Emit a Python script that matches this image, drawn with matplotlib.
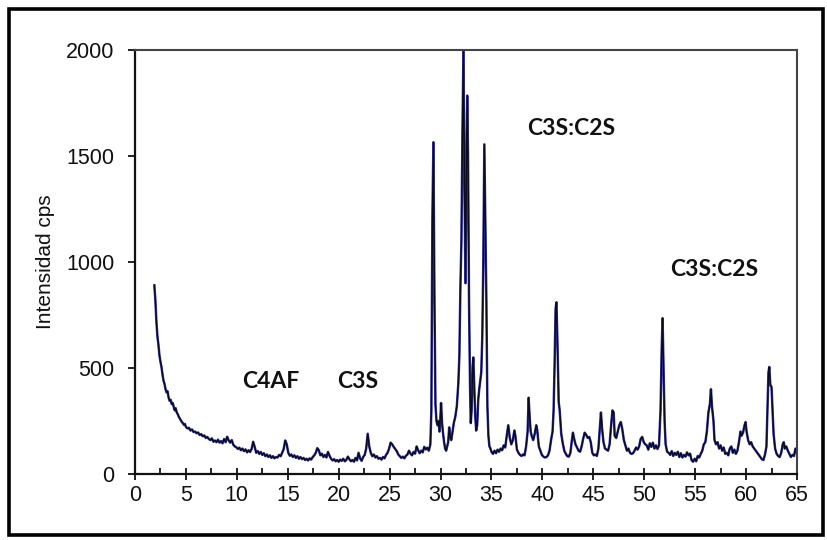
import matplotlib
matplotlib.use("Agg")
import matplotlib.pyplot as plt
from matplotlib.patches import Rectangle
from matplotlib.ticker import MultipleLocator

# 2-theta (deg) / intensity (cps)
tt_a = [1.9, 2.0, 2.1, 2.2, 2.3, 2.4, 2.5, 2.6, 2.7, 2.8, 2.9, 3.0, 3.1, 3.2, 3.3, 3.4,
        3.5, 3.6, 3.7, 3.8, 3.9, 4.0, 4.1, 4.2, 4.3, 4.4, 4.5, 4.6, 4.7, 4.8, 4.9, 5.0,
        5.15, 5.3, 5.45, 5.6, 5.75, 5.9, 6.05, 6.2, 6.35, 6.5, 6.65, 6.8, 6.95, 7.1, 7.25,
        7.4, 7.55, 7.7, 7.85, 8.0, 8.15, 8.3, 8.45, 8.6, 8.75, 8.9, 9.05, 9.2, 9.35, 9.5,
        9.65, 9.8, 9.95]
cps_a = [890, 820, 720, 650, 610, 560, 530, 505, 470, 440, 425, 400, 385, 390, 360, 345,
         350, 330, 335, 318, 300, 310, 290, 282, 270, 262, 255, 245, 240, 232, 236, 222,
         215, 218, 205, 210, 198, 200, 192, 196, 184, 188, 178, 182, 170, 175, 165,
         160, 168, 152, 158, 150, 162, 148, 155, 145, 165, 150, 176, 158, 148, 160,
         138, 130, 126]

tt_b = [10.1, 10.25, 10.4, 10.55, 10.7, 10.85, 11.0, 11.15, 11.3, 11.45, 11.6, 11.75,
        11.9, 12.05, 12.2, 12.35, 12.5, 12.65, 12.8, 12.95, 13.1, 13.25, 13.4, 13.55,
        13.7, 13.85, 14.0, 14.15, 14.3, 14.45, 14.6, 14.75, 14.9, 15.05, 15.2, 15.35,
        15.5, 15.65, 15.8, 15.95, 16.1, 16.25, 16.4, 16.55, 16.7, 16.85, 17.0, 17.15,
        17.3, 17.45, 17.6, 17.75, 17.9, 18.05, 18.2, 18.35, 18.5, 18.65, 18.8, 18.95,
        19.1, 19.25, 19.4, 19.55, 19.7, 19.85, 20.0, 20.15, 20.3, 20.45, 20.6, 20.75,
        20.9, 21.05, 21.2, 21.35, 21.5, 21.65, 21.8, 21.95, 22.1, 22.25, 22.4, 22.55,
        22.7, 22.85, 23.0, 23.15, 23.3, 23.45, 23.6, 23.75, 23.9, 24.05, 24.2, 24.35,
        24.5, 24.65, 24.8, 24.95, 25.1, 25.25, 25.4, 25.55, 25.7, 25.85, 26.0, 26.15,
        26.3, 26.45, 26.6, 26.75, 26.9, 27.05, 27.2, 27.35, 27.5, 27.65, 27.8, 27.95,
        28.1, 28.25, 28.4, 28.55, 28.7, 28.85, 29.0]
cps_b = [118, 124, 112, 120, 108, 116, 102, 112, 104, 118, 152, 128,
         100, 108, 95, 104, 90, 98, 84, 92, 80, 88, 76, 84,
         74, 80, 78, 90, 84, 100, 118, 158, 140, 100, 86, 92,
         80, 88, 76, 84, 72, 80, 70, 76, 66, 72, 64, 74,
         68, 80, 88, 100, 122, 112, 88, 96, 80, 90, 78, 104,
         86, 72, 64, 70, 60, 66, 58, 68, 62, 72, 60, 66,
         82, 70, 60, 66, 58, 76, 64, 100, 74, 62, 80, 90,
         120, 190, 130, 100, 84, 92, 78, 84, 72, 76, 68, 80,
         74, 90, 100, 120, 148, 140, 128, 118, 108, 92, 84, 76,
         82, 74, 86, 92, 110, 96, 88, 104, 96, 130, 112, 98,
         110, 102, 128, 116, 124, 110, 140]

tt_c = [29.1, 29.2, 29.3, 29.4, 29.5, 29.6, 29.7, 29.8, 29.9, 30.0, 30.05, 30.15,
        30.25, 30.35, 30.45, 30.55, 30.65, 30.75, 30.85, 30.95, 31.05, 31.15, 31.3,
        31.45, 31.6, 31.75, 31.85, 31.95, 32.05, 32.15, 32.25, 32.35, 32.45, 32.55,
        32.62, 32.7, 32.8, 32.9, 32.97, 33.05, 33.15, 33.22, 33.3, 33.4, 33.5, 33.6,
        33.7, 33.8, 33.9, 34.0, 34.1, 34.2, 34.3, 34.4, 34.5, 34.6, 34.7, 34.8, 34.9]
cps_c = [300, 1200, 1565, 850, 330, 250, 230, 250, 200, 280, 335, 240,
         190, 150, 120, 110, 130, 150, 220, 175, 160, 190, 240,
         270, 320, 430, 560, 880, 1100, 1600, 2000, 1350, 900, 1500,
         1785, 1500, 800, 400, 240, 300, 510, 550, 430, 280, 205, 230,
         350, 400, 440, 480, 650, 1000, 1555, 1200, 820, 320, 180, 130, 120]

tt_d = [35.0, 35.15, 35.3, 35.45, 35.6, 35.75, 35.9, 36.05, 36.2, 36.35, 36.5, 36.65,
        36.8, 36.95, 37.1, 37.25, 37.35, 37.5, 37.65, 37.8, 37.95, 38.1, 38.25, 38.4,
        38.55, 38.65, 38.75, 38.85, 38.95, 39.1, 39.25, 39.4, 39.5, 39.65, 39.8, 39.95,
        40.1, 40.25, 40.4, 40.55, 40.7, 40.85, 41.0, 41.1, 41.2, 41.3, 41.38, 41.48,
        41.6, 41.7, 41.85, 42.0, 42.15, 42.3, 42.45, 42.6, 42.75, 42.9, 43.0, 43.1,
        43.25, 43.4, 43.55, 43.7, 43.85, 44.0, 44.15, 44.3, 44.45, 44.6, 44.75, 44.9,
        45.05, 45.2, 45.35, 45.5, 45.65, 45.75, 45.85, 46.0, 46.15, 46.3, 46.45, 46.6,
        46.75, 46.88, 47.0, 47.1, 47.25, 47.4, 47.55, 47.7, 47.85, 48.0, 48.15, 48.3,
        48.45, 48.6, 48.75, 48.9, 49.05, 49.2, 49.35, 49.5, 49.65, 49.8, 49.95, 50.1,
        50.25, 50.4, 50.55, 50.7, 50.85, 51.0, 51.15, 51.3, 51.45, 51.6, 51.72, 51.8,
        51.9, 52.0, 52.1, 52.25, 52.4, 52.55, 52.7, 52.85, 53.0, 53.15, 53.3, 53.45,
        53.6, 53.75, 53.9, 54.05, 54.2, 54.35, 54.5, 54.65, 54.8, 54.95, 55.1, 55.25,
        55.4, 55.55, 55.7, 55.85, 56.0, 56.15, 56.3, 56.45, 56.55, 56.65, 56.8, 56.9,
        57.05, 57.2, 57.35, 57.5, 57.65, 57.8, 57.95, 58.1, 58.25, 58.4, 58.55, 58.7,
        58.85, 59.0, 59.15, 59.3, 59.45, 59.55, 59.7, 59.85, 59.95, 60.05, 60.2, 60.35,
        60.5, 60.65, 60.8, 60.95, 61.1, 61.25, 61.4, 61.55, 61.7, 61.85, 62.0, 62.1,
        62.2, 62.28, 62.38, 62.5, 62.6, 62.7, 62.85, 63.0, 63.15, 63.3, 63.45, 63.6,
        63.7, 63.8, 63.95, 64.1, 64.25, 64.4, 64.55, 64.7, 64.85, 65.0]
cps_d = [105, 95, 110, 98, 115, 105, 120, 112, 135, 125, 180, 230,
         170, 140, 160, 205, 180, 115, 100, 90, 85, 92, 88, 130,
         200, 360, 270, 200, 180, 160, 190, 230, 205, 130, 110, 90,
         82, 78, 80, 88, 110, 160, 200, 300, 520, 780, 810, 620,
         340, 300, 190, 145, 110, 95, 84, 82, 100, 160, 195, 170,
         140, 125, 110, 105, 130, 165, 195, 185, 170, 175, 150, 100,
         88, 92, 85, 120, 220, 290, 220, 150, 120, 115, 110, 140,
         230, 300, 290, 180, 170, 200, 230, 245, 210, 160, 135, 110,
         120, 100, 95, 98, 110, 125, 115, 130, 165, 175, 150, 140,
         135, 115, 145, 128, 148, 120, 135, 118, 135, 300, 600, 735,
         500, 250, 140, 105, 100, 90, 108, 85, 100, 90, 105, 80,
         98, 78, 90, 82, 102, 88, 96, 65, 58, 72, 60, 85,
         78, 95, 110, 140, 150, 200, 290, 330, 400, 320, 250, 160,
         140, 150, 120, 135, 110, 125, 95, 100, 88, 120, 130, 100,
         115, 95, 110, 150, 200, 180, 195, 230, 245, 200, 160, 140,
         150, 130, 120, 110, 100, 90, 80, 70, 66, 90, 130, 300,
         480, 505, 420, 410, 300, 190, 120, 95, 85, 80, 100, 140,
         150, 120, 130, 110, 95, 80, 90, 85, 120, 95]

two_theta = tt_a + tt_b + tt_c + tt_d
cps = cps_a + cps_b + cps_c + cps_d
for t, c in [(tt_a, cps_a), (tt_b, cps_b), (tt_c, cps_c), (tt_d, cps_d)]:
    if len(t) != len(c):
        raise ValueError(f"length mismatch {len(t)} vs {len(c)} at {t[0]}")

phase_labels = ["C4AF", "C3S", "C3S:C2S", "C3S:C2S"]
label_x = [13.3, 21.9, 42.8, 56.9]
label_y = [436, 436, 1632, 965]

fig = plt.figure(figsize=(8.28, 5.40), dpi=100)
fig.patch.set_facecolor("white")
ax = fig.add_axes([135 / 828, 1 - 474 / 540, 662 / 828, 424 / 540])

ax.plot(two_theta, cps, color="#3b3bb5", lw=1.8)
ax.plot(two_theta, cps, color="#0b0b1e", lw=1.05)

ax.set_xlim(0, 65)
ax.set_ylim(0, 2000)
ax.xaxis.set_major_locator(MultipleLocator(5))
ax.xaxis.set_minor_locator(MultipleLocator(2.5))
ax.yaxis.set_major_locator(MultipleLocator(500))

lab_font = ["Liberation Sans", "DejaVu Sans"]
ax.tick_params(axis="x", which="major", direction="inout", length=8, width=1.3,
               pad=4, labelsize=15.5, colors="#111111")
ax.tick_params(axis="x", which="minor", direction="in", length=4, width=1.2)
ax.tick_params(axis="y", direction="out", length=5, width=1.3, pad=10,
               labelsize=15.5, colors="#111111")
for lab in ax.get_xticklabels() + ax.get_yticklabels():
    lab.set_family(lab_font)

ax.set_ylabel("Intensidad cps", family=lab_font, fontsize=15, color="#111111")
ax.yaxis.set_label_coords(-0.121, 0.5)

for side in ["left", "bottom"]:
    ax.spines[side].set_linewidth(1.6)
    ax.spines[side].set_color("#111111")
for side in ["top", "right"]:
    ax.spines[side].set_linewidth(1.5)
    ax.spines[side].set_color("#444444")

for txt, x, y in zip(phase_labels, label_x, label_y):
    ax.text(x, y, txt, ha="center", va="center", fontsize=16.5,
            fontweight="bold", family=["Lato", "DejaVu Sans"], color="#111111")

# outer frame around the whole picture
fig.patches.append(Rectangle((9 / 828, 5 / 540), 814 / 828, 526 / 540,
                             transform=fig.transFigure, fill=False,
                             edgecolor="black", lw=2.6))

fig.savefig("out.png", dpi=100)
